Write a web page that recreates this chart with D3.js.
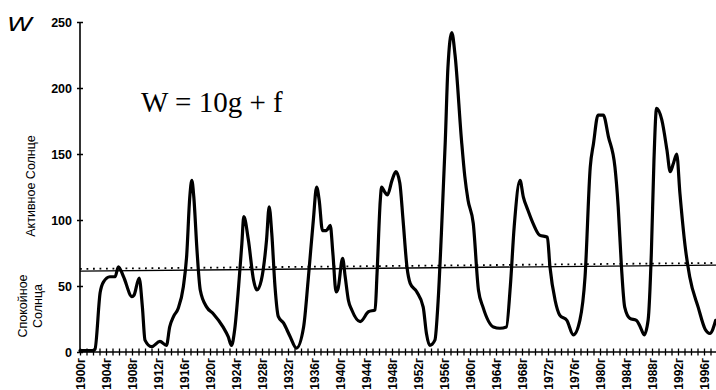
<!DOCTYPE html>
<html>
<head>
<meta charset="utf-8">
<script src="https://cdn.jsdelivr.net/npm/d3@7"></script>
<style>
  html, body { margin: 0; padding: 0; background: #fff; }
  svg { display: block; }
</style>
</head>
<body>
<svg id="chart" width="716" height="390"></svg>
<script>
// ---- data ----
const years = [1900.0,1902.0,1902.3,1903.1,1903.6,1904.6,1905.4,1905.9,1906.7,1908.0,1908.3,1909.1,1909.6,1910.0,1911.0,1912.3,1913.3,1913.8,1914.4,1915.1,1915.9,1916.4,1916.9,1917.2,1917.5,1918.0,1918.5,1919.5,1920.5,1922.0,1922.8,1923.3,1923.8,1924.4,1924.9,1925.2,1925.9,1926.7,1927.2,1927.9,1928.7,1929.1,1929.5,1930.0,1930.5,1931.3,1932.3,1933.3,1934.4,1935.1,1935.9,1936.4,1936.8,1937.3,1937.9,1938.5,1938.9,1939.4,1939.7,1940.4,1940.8,1941.3,1941.8,1943.1,1944.4,1945.4,1945.7,1946.2,1946.4,1946.9,1947.3,1948.0,1948.6,1949.2,1949.7,1950.3,1950.8,1951.8,1952.8,1953.3,1953.8,1954.6,1955.1,1955.6,1956.2,1956.6,1957.2,1957.7,1958.7,1959.2,1959.7,1960.5,1961.3,1962.0,1963.6,1964.6,1965.6,1966.2,1966.8,1967.7,1968.2,1968.9,1969.7,1970.7,1971.9,1972.3,1973.1,1973.8,1974.9,1975.9,1976.9,1977.7,1978.5,1979.0,1979.7,1980.5,1981.3,1982.3,1982.8,1983.3,1983.8,1984.6,1985.6,1986.2,1986.8,1987.4,1987.9,1988.3,1988.7,1989.5,1990.3,1990.8,1991.3,1991.8,1992.3,1993.1,1993.8,1995.1,1996.2,1996.9,1997.8];
const wolfNumbers = [1,1,2,45,53,57,57,64.6,57,42,43,56,34,9,4,8,5,19,27,33,49.5,72,118,130,118,77,47,34,29,19,11.6,5,17,49.5,82,102.5,85,54.5,47,54.5,85,110,90,49.5,27,22,12,3,19,54.5,100,125,115,92,92,96,75,45.6,48,71,57,39,32,23,30.5,32,59.6,115,125,121,119,130,136.6,128,100,64.6,52,45.6,34,14,5,9,39,90,160,215,242,225,160,133,115,97.5,47,34,19,18,19,49.5,95,130,117.6,107.6,97.5,88.6,87,64.6,39,28,24,13,24,57,140,158,179.5,179.5,163,140,110,64.6,34,25.5,24,19,13,24,75,145,184.6,176,153,136.6,143,150,120,80,57,34,17,14,24];
const levelYears = [1900, 1998];
const levelValues = [61.3, 65.8];
const yTicks = [0, 50, 100, 150, 200, 250];
const labelYears = d3.range(1900, 1997, 4);
const minorYears = d3.range(1900, 1998, 1);
const formulaText = "W = 10g + f";
const activeLabel = "Активное Солнце";
const quietLabel = ["Спокойное", "Солнца"];

// ---- scales ----
const svg = d3.select("#chart");
const x = d3.scaleLinear().domain([1900, 1998]).range([80, 717]);
const y = d3.scaleLinear().domain([0, 250]).range([352, 22]);

// ---- y axis ----
const yAxis = svg.append("g")
  .attr("transform", "translate(80,0)")
  .call(d3.axisLeft(y).tickValues(yTicks).tickSize(3).tickPadding(5).tickFormat(d3.format("d")));
yAxis.select(".domain").attr("stroke", "#000").attr("stroke-width", 1.6).attr("d", `M0,${y(0)}V${y(250)}`);
yAxis.selectAll(".tick line").attr("x1", 3).attr("x2", -3).attr("stroke", "#000").attr("stroke-width", 1.5);
yAxis.selectAll(".tick text")
  .attr("font-family", "'Liberation Sans', Arial, sans-serif")
  .attr("font-size", 12.5).attr("font-weight", "bold").attr("fill", "#000");

// ---- x axis with yearly cross ticks ----
const xAxis = svg.append("g")
  .attr("transform", `translate(0,${y(0)})`)
  .call(d3.axisBottom(x).tickValues(minorYears).tickSize(3).tickFormat(""));
xAxis.select(".domain").attr("stroke", "#000").attr("stroke-width", 1.6).attr("d", `M${x(1900)},0H716`);
xAxis.selectAll(".tick line").attr("y1", -3.5).attr("y2", 3.5).attr("stroke", "#000").attr("stroke-width", 1.3);

const xLab = svg.append("g")
  .attr("transform", `translate(0,${y(0)})`)
  .call(d3.axisBottom(x).tickValues(labelYears).tickSize(0).tickFormat(d => d + "г"));
xLab.select(".domain").remove();
xLab.selectAll(".tick text")
  .attr("font-family", "'Liberation Sans', Arial, sans-serif")
  .attr("font-size", 12).attr("font-weight", "bold").attr("fill", "#000")
  .attr("transform", "rotate(-90)")
  .attr("text-anchor", "end")
  .attr("x", -6).attr("y", 0).attr("dy", "0.36em");

// ---- reference level (solid + dotted) ----
const levelLine = d3.line().x((d, i) => x(levelYears[i])).y(d => y(d));
svg.append("path").datum(levelValues)
  .attr("d", levelLine).attr("fill", "none").attr("stroke", "#000").attr("stroke-width", 1.4);
svg.append("path").datum(levelValues)
  .attr("d", levelLine).attr("transform", "translate(0,-2.2)")
  .attr("fill", "none").attr("stroke", "#000").attr("stroke-width", 1.8)
  .attr("stroke-dasharray", "1.8,4.7");

// ---- Wolf number curve ----
const curve = d3.line()
  .x((d, i) => x(years[i]))
  .y(d => y(d))
  .curve(d3.curveMonotoneX);
svg.append("path").datum(wolfNumbers)
  .attr("d", curve).attr("fill", "none").attr("stroke", "#000")
  .attr("stroke-width", 3.2).attr("stroke-linejoin", "round").attr("stroke-linecap", "round");

// ---- texts ----
svg.append("text")
  .attr("x", 141).attr("y", 112)
  .attr("font-family", "'Liberation Serif', 'Times New Roman', serif")
  .attr("font-size", 29).attr("fill", "#000")
  .text(formulaText);

svg.append("text")
  .attr("x", 7).attr("y", 31)
  .attr("font-family", "'DejaVu Sans', sans-serif")
  .attr("font-style", "oblique").attr("font-weight", 200)
  .attr("font-size", 20).attr("fill", "#000")
  .attr("textLength", 26).attr("lengthAdjust", "spacingAndGlyphs")
  .text("W");

svg.append("text")
  .attr("transform", "translate(35,186) rotate(-90)")
  .attr("text-anchor", "middle")
  .attr("font-family", "'Liberation Sans', Arial, sans-serif")
  .attr("font-size", 12.5).attr("fill", "#000")
  .text(activeLabel);

quietLabel.forEach((t, i) => {
  svg.append("text")
    .attr("transform", `translate(${27 + i * 15},306) rotate(-90)`)
    .attr("text-anchor", "middle")
    .attr("font-family", "'Liberation Sans', Arial, sans-serif")
    .attr("font-size", 12.5).attr("fill", "#000")
    .text(t);
});
</script>
</body>
</html>
